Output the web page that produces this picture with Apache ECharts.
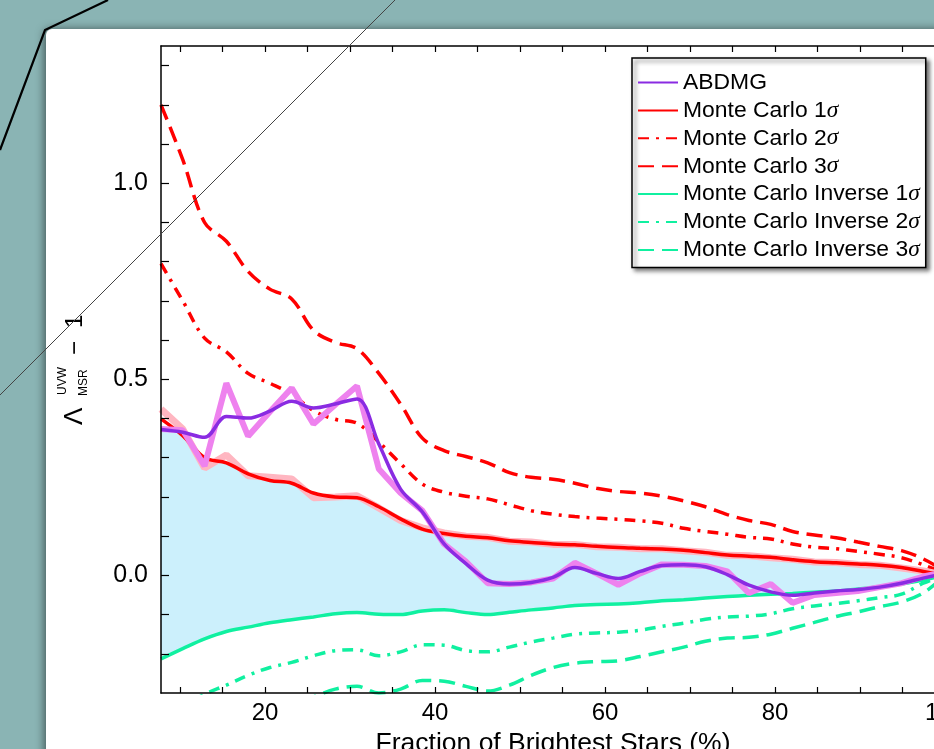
<!DOCTYPE html>
<html>
<head>
<meta charset="utf-8">
<style>
  html, body { margin: 0; padding: 0; background: #8ab4b4; }
  #chart { width: 934px; height: 749px; }
</style>
<script src="https://cdn.jsdelivr.net/npm/echarts@6/dist/echarts.min.js"></script>
</head>
<body>
<div id="chart"></div>
<script>
// sample positions: fraction of brightest stars (%)
const fractions = [7.75, 10.31, 12.88, 15.44, 18.0, 20.56, 23.13, 25.69, 28.25, 30.81,
  33.38, 35.94, 38.5, 41.06, 43.63, 46.19, 48.75, 51.31, 53.88, 56.44,
  59.0, 61.56, 64.13, 66.69, 69.25, 71.81, 74.38, 76.94, 79.5, 82.06,
  84.63, 87.19, 89.75, 92.31, 94.88, 97.44, 100];

const abdmgRaw = [0.373, 0.37, 0.279, 0.49, 0.355, 0.417, 0.478, 0.386, 0.435, 0.483,
  0.271, 0.21, 0.165, 0.08, 0.035, -0.02, -0.022, -0.018, -0.008, 0.032,
  0.005, -0.024, 0.005, 0.028, 0.027, 0.024, 0.01, -0.045, -0.022, -0.07,
  -0.05, -0.045, -0.04, -0.03, -0.02, -0.003, 0.008];
const abdmg = [0.372, 0.365, 0.352, 0.405, 0.401, 0.419, 0.444, 0.427, 0.437, 0.45,
  0.335, 0.22, 0.162, 0.08, 0.03, -0.012, -0.022, -0.018, -0.005, 0.02,
  0.005, -0.008, 0.01, 0.025, 0.027, 0.022, 0.002, -0.025, -0.042, -0.051,
  -0.045, -0.04, -0.036, -0.03, -0.02, -0.007, 0.005];

const mc1Raw = [0.424, 0.373, 0.274, 0.307, 0.254, 0.25, 0.246, 0.198, 0.2, 0.203,
  0.172, 0.14, 0.121, 0.108, 0.1, 0.097, 0.087, 0.085, 0.079, 0.079,
  0.073, 0.072, 0.068, 0.068, 0.063, 0.059, 0.051, 0.05, 0.045, 0.041,
  0.034, 0.033, 0.028, 0.026, 0.019, 0.011, 0.0];
const mc1 = [0.399, 0.356, 0.30, 0.287, 0.259, 0.242, 0.235, 0.21, 0.2, 0.198,
  0.175, 0.144, 0.118, 0.107, 0.1, 0.096, 0.088, 0.084, 0.08, 0.078,
  0.074, 0.071, 0.069, 0.067, 0.064, 0.058, 0.052, 0.049, 0.046, 0.04,
  0.035, 0.032, 0.029, 0.026, 0.02, 0.01, 0.0];
const mc2 = [0.795, 0.7, 0.605, 0.57, 0.515, 0.49, 0.462, 0.42, 0.398, 0.388,
  0.34, 0.285, 0.233, 0.212, 0.202, 0.195, 0.18, 0.165, 0.156, 0.15,
  0.146, 0.143, 0.139, 0.133, 0.12, 0.112, 0.105, 0.097, 0.093, 0.08,
  0.072, 0.068, 0.061, 0.054, 0.045, 0.027, 0.005];
const mc3 = [1.2, 1.06, 0.9, 0.852, 0.775, 0.73, 0.705, 0.625, 0.594, 0.578,
  0.515, 0.437, 0.35, 0.318, 0.303, 0.287, 0.262, 0.25, 0.245, 0.235,
  0.222, 0.214, 0.21, 0.202, 0.19, 0.175, 0.155, 0.14, 0.13, 0.112,
  0.103, 0.096, 0.085, 0.074, 0.063, 0.042, 0.01];

const inv1 = [-0.213, -0.187, -0.162, -0.143, -0.132, -0.121, -0.113, -0.106, -0.098, -0.095,
  -0.099, -0.1, -0.091, -0.088, -0.095, -0.1, -0.094, -0.088, -0.083, -0.077,
  -0.074, -0.073, -0.07, -0.065, -0.062, -0.058, -0.054, -0.051, -0.048, -0.046,
  -0.043, -0.04, -0.035, -0.029, -0.022, -0.012, 0.0];
const inv2 = [-0.37, -0.335, -0.303, -0.28, -0.255, -0.235, -0.222, -0.205, -0.192, -0.19,
  -0.205, -0.195, -0.177, -0.178, -0.192, -0.195, -0.183, -0.17, -0.16, -0.15,
  -0.147, -0.145, -0.14, -0.13, -0.122, -0.112, -0.106, -0.104, -0.098, -0.085,
  -0.078, -0.072, -0.065, -0.057, -0.048, -0.02, 0.0];
const inv3 = [-0.55, -0.5, -0.45, -0.41, -0.38, -0.35, -0.33, -0.31, -0.29, -0.283,
  -0.3, -0.29, -0.268, -0.27, -0.283, -0.295, -0.28, -0.255, -0.235, -0.224,
  -0.22, -0.218, -0.207, -0.195, -0.183, -0.168, -0.16, -0.158, -0.15, -0.135,
  -0.12, -0.105, -0.093, -0.08, -0.068, -0.045, 0.0];

// upper edge of the shaded band (starts under the ABDMG curve, then follows 1 sigma)
const fillTop = [0.372].concat(mc1.slice(1));

const xTicks = [10, 15, 20, 25, 30, 35, 40, 45, 50, 55, 60, 65, 70, 75, 80, 85, 90, 95, 100];
const xLabels = [20, 40, 60, 80, 100];
const yTicks = [-0.2, -0.1, 0, 0.1, 0.2, 0.3, 0.4, 0.5, 0.6, 0.7, 0.8, 0.9, 1.0, 1.1, 1.2, 1.3];
const yLabels = [0, 0.5, 1.0];

const FONT = '"Liberation Sans", Arial, Helvetica, sans-serif';
const RED = '#ff0000';
const GREEN = '#10f0a0';
const PURPLE = '#8a2be2';
const DASH = [16, 8];
const DASHDOT = [11, 7, 3, 7];

function pairs(arr) {
  return fractions.map((x, i) => [x, arr[i]]);
}

function curve(name, arr, color, width, type, smooth) {
  return {
    name: name,
    type: 'line',
    data: pairs(arr),
    smooth: smooth,
    symbol: 'none',
    color: color,
    lineStyle: { color: color, width: width, type: type },
    silent: true
  };
}

// filled area from a curve down to the bottom of the plot
function fill(name, arr, color) {
  return {
    name: name, type: 'line', data: pairs(arr), smooth: 0.35, symbol: 'none', z: 1,
    lineStyle: { opacity: 0 }, areaStyle: { color: color, opacity: 1, origin: 'start' }, silent: true
  };
}

const chart = echarts.init(document.getElementById('chart'));

const axisLine = { show: true, onZero: false, lineStyle: { color: '#000', width: 1.5 } };

const option = {
  animation: false,
  backgroundColor: '#8ab4b4',
  grid: { left: 161, top: 46, width: 784, height: 647, outerBoundsMode: 'none' },
  graphic: [
    {
      type: 'rect', z: -10,
      shape: { x: 46, y: 29, width: 920, height: 760, r: [6, 0, 0, 0] },
      style: { fill: '#fff', shadowBlur: 8, shadowColor: 'rgba(0,0,0,0.5)', shadowOffsetX: -2 }
    },
    {
      type: 'polyline', z: 50,
      shape: { points: [[0, 150], [45, 30], [108, 0]] },
      style: { stroke: '#000', lineWidth: 2.2, fill: null }
    },
    {
      type: 'group', x: 83, y: 425, rotation: Math.PI / 2, z: 50,
      children: [
        { type: 'text', x: 0, y: -8, style: { text: 'Λ', fontSize: 26, fontFamily: FONT, fill: '#000', verticalAlign: 'middle' } },
        { type: 'text', x: 30, y: -20, style: { text: 'UVW', fontSize: 12, fontFamily: FONT, fill: '#000', verticalAlign: 'middle' } },
        { type: 'text', x: 29, y: 1, style: { text: 'MSR', fontSize: 12, fontFamily: FONT, fill: '#000', verticalAlign: 'middle' } },
        { type: 'text', x: 70, y: -8, style: { text: '−', fontSize: 24, fontFamily: FONT, fill: '#000', verticalAlign: 'middle' } },
        { type: 'text', x: 97, y: -8, style: { text: '1', fontSize: 24, fontFamily: FONT, fill: '#000', verticalAlign: 'middle' } }
      ]
    },
    {
      type: 'line', z: 100,
      shape: { x1: 0, y1: 395, x2: 395, y2: 0 },
      style: { stroke: '#444', lineWidth: 1 }
    }
  ],
  legend: {
    orient: 'vertical',
    left: 632,
    top: 58,
    padding: [13, 6, 6, 5],
    itemWidth: 40,
    itemHeight: 14,
    itemGap: 4.9,
    backgroundColor: '#fff',
    borderColor: '#000',
    borderWidth: 1.5,
    shadowColor: 'rgba(0,0,0,0.55)',
    shadowBlur: 4,
    shadowOffsetX: 3,
    shadowOffsetY: 3,
    itemStyle: { opacity: 0 },
    data: ['ABDMG', 'Monte Carlo 1σ', 'Monte Carlo 2σ', 'Monte Carlo 3σ',
      'Monte Carlo Inverse 1σ', 'Monte Carlo Inverse 2σ', 'Monte Carlo Inverse 3σ'],
    formatter: name => name.replace('σ', '{s|σ}'),
    textStyle: {
      fontSize: 22.9, fontFamily: FONT, color: '#000',
      rich: { s: { fontSize: 23.4, fontStyle: 'italic', fontFamily: '"Liberation Serif", serif', color: '#000' } }
    }
  },
  xAxis: [
    {
      type: 'value', min: 7.75, max: 100, position: 'bottom', z: 10,
      axisLine: axisLine,
      axisTick: { show: true, inside: true, length: 6, customValues: xTicks, lineStyle: { color: '#000', width: 1.2 } },
      axisLabel: { customValues: xLabels, fontSize: 24, fontFamily: FONT, color: '#000', margin: 8 },
      splitLine: { show: false },
      name: 'Fraction of Brightest Stars (%)',
      nameLocation: 'middle',
      nameGap: 32,
      nameTextStyle: { fontSize: 26.5, fontFamily: FONT, color: '#000' }
    },
    {
      type: 'value', min: 7.75, max: 100, position: 'top', z: 10,
      axisLine: axisLine,
      axisTick: { show: true, inside: true, length: 6, customValues: xTicks, lineStyle: { color: '#000', width: 1.2 } },
      axisLabel: { show: false },
      splitLine: { show: false }
    }
  ],
  yAxis: {
    type: 'value', min: -0.3, max: 1.35, z: 10,
    axisLine: axisLine,
    axisTick: { show: true, inside: true, length: 8, customValues: yTicks, lineStyle: { color: '#000', width: 1.2 } },
    axisLabel: { customValues: yLabels, formatter: v => v.toFixed(1), fontSize: 25, fontFamily: FONT, color: '#000', margin: 13 },
    splitLine: { show: false }
  },
  series: [
    fill('band', fillTop, '#ccf0fc'),
    fill('band mask', inv1, '#ffffff'),
    curve('Monte Carlo Inverse 3σ', inv3, GREEN, 3.5, DASH, 0.35),
    curve('Monte Carlo Inverse 2σ', inv2, GREEN, 3.5, DASHDOT, 0.35),
    curve('Monte Carlo Inverse 1σ', inv1, GREEN, 3.5, 'solid', 0.35),
    curve('Monte Carlo 3σ', mc3, RED, 3.5, DASH, 0.35),
    curve('Monte Carlo 2σ', mc2, RED, 3.5, DASHDOT, 0.35),
    curve('MC 1σ raw', mc1Raw, '#ffb6c1', 7, 'solid', false),
    curve('Monte Carlo 1σ', mc1, RED, 3.5, 'solid', 0.35),
    curve('ABDMG raw', abdmgRaw, '#ee82ee', 6, 'solid', false),
    curve('ABDMG', abdmg, PURPLE, 3.5, 'solid', 0.35)
  ]
};

chart.setOption(option);
</script>
</body>
</html>
